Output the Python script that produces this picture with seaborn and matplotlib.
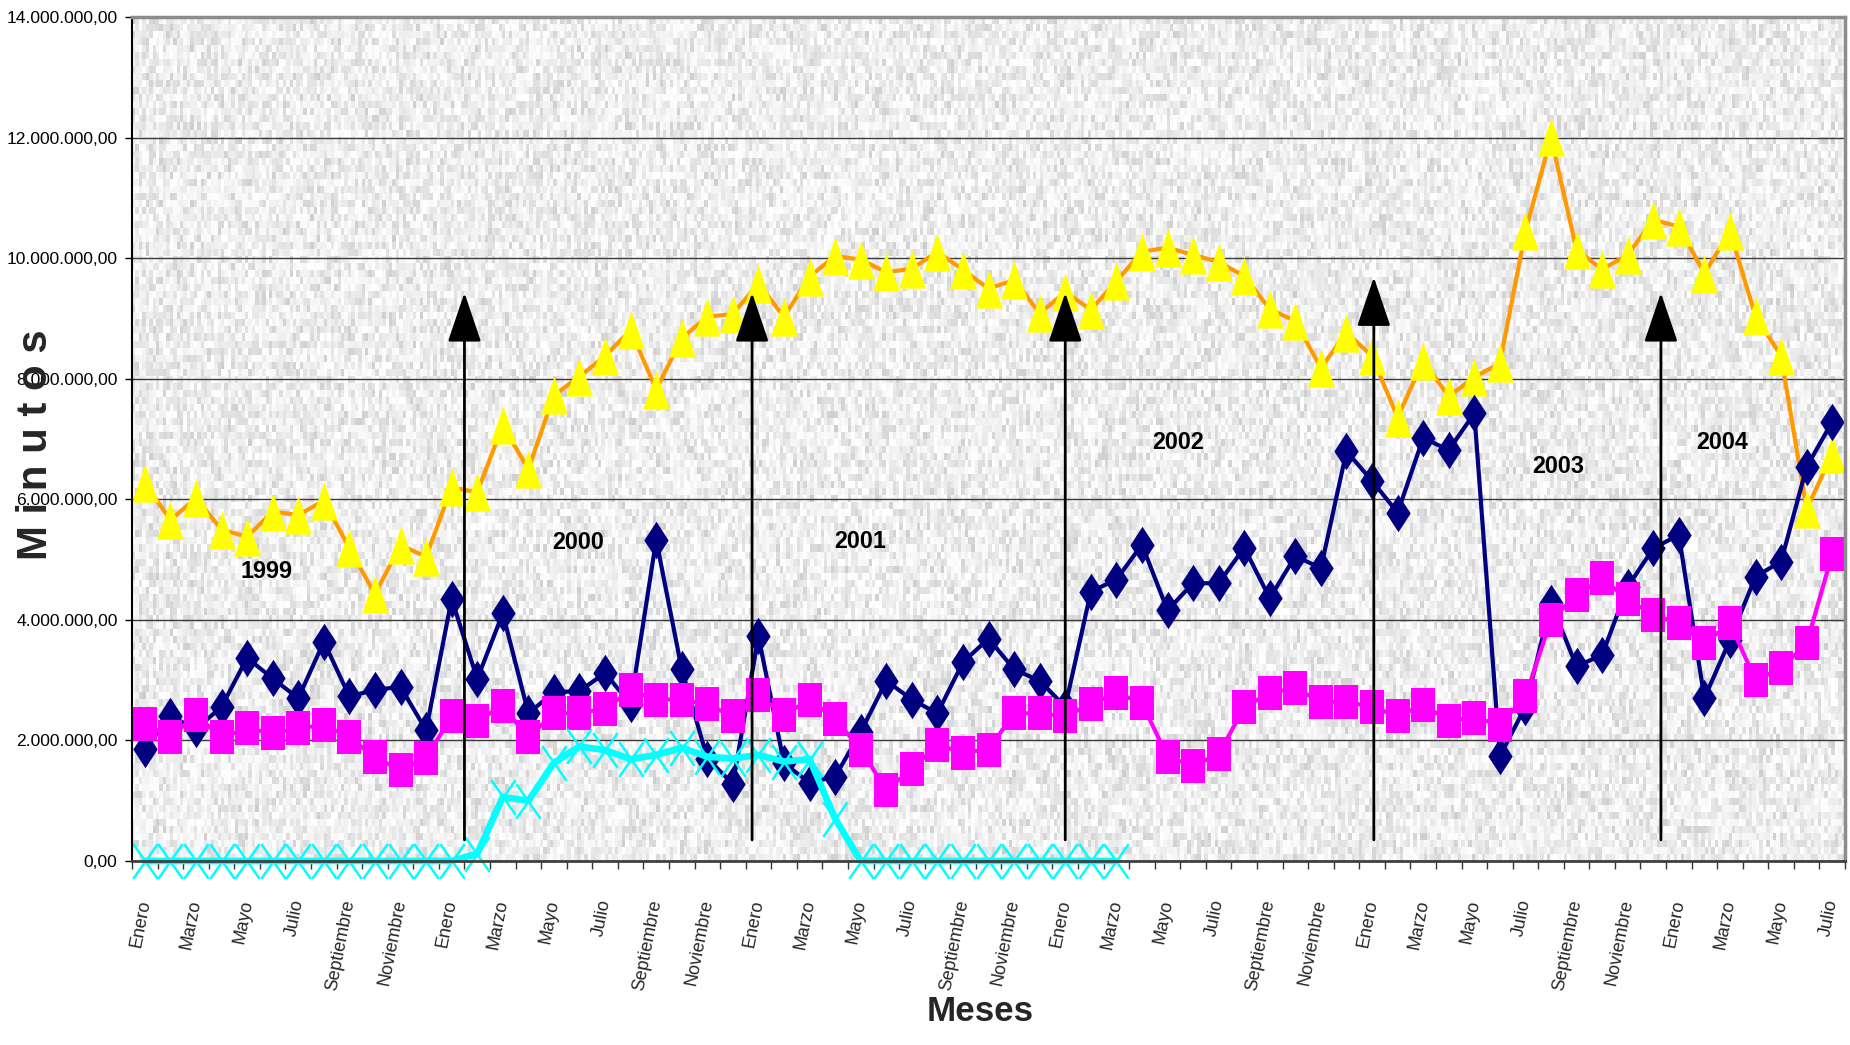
import numpy as np
import pandas as pd
import matplotlib
matplotlib.use("Agg")
import matplotlib.pyplot as plt
import seaborn as sns
from matplotlib.path import Path
from matplotlib import font_manager as fm

# ---------------- data (values in millions of minutes) ----------------
meses_nombres = ["Enero", "Febrero", "Marzo", "Abril", "Mayo", "Junio", "Julio",
                 "Agosto", "Septiembre", "Octubre", "Noviembre", "Diciembre"]
anios = [1999, 2000, 2001, 2002, 2003, 2004]
n_meses = 67  # Enero 1999 .. Julio 2004

serie_amarilla = [6.27, 5.66, 6.02, 5.50, 5.38, 5.80, 5.74, 5.98, 5.19, 4.43,
                  5.24, 5.05, 6.20, 6.12, 7.23, 6.50, 7.73, 8.04, 8.38, 8.81,
                  7.82, 8.68, 9.03, 9.08, 9.58, 9.03, 9.70, 10.04, 9.98, 9.77,
                  9.83, 10.11, 9.81, 9.50, 9.64, 9.09, 9.44, 9.15, 9.62, 10.11,
                  10.18, 10.06, 9.94, 9.71, 9.16, 8.96, 8.18, 8.77, 8.38, 7.36,
                  8.30, 7.71, 8.03, 8.26, 10.45, 12.01, 10.14, 9.82, 10.06, 10.64,
                  10.53, 9.75, 10.45, 9.04, 8.38, 5.84, 6.75]

serie_azul = [1.86, 2.40, 2.19, 2.56, 3.37, 3.03, 2.70, 3.64, 2.73, 2.84,
              2.89, 2.17, 4.35, 3.02, 4.11, 2.45, 2.80, 2.82, 3.12, 2.60,
              5.33, 3.18, 1.70, 1.28, 3.73, 1.62, 1.30, 1.40, 2.14, 2.99,
              2.68, 2.45, 3.30, 3.69, 3.18, 2.99, 2.56, 4.47, 4.67, 5.25,
              4.16, 4.61, 4.61, 5.20, 4.36, 5.06, 4.86, 6.80, 6.31, 5.78,
              7.02, 6.82, 7.43, 1.74, 2.56, 4.28, 3.23, 3.42, 4.55, 5.19,
              5.41, 2.70, 3.67, 4.72, 4.97, 6.54, 7.29]

serie_magenta = [2.28, 2.06, 2.42, 2.05, 2.20, 2.12, 2.20, 2.26, 2.05, 1.72,
                 1.51, 1.71, 2.40, 2.33, 2.57, 2.05, 2.45, 2.45, 2.53, 2.83,
                 2.68, 2.68, 2.60, 2.40, 2.75, 2.42, 2.68, 2.36, 1.85, 1.18,
                 1.52, 1.93, 1.80, 1.85, 2.45, 2.45, 2.40, 2.60, 2.79, 2.62,
                 1.73, 1.58, 1.77, 2.55, 2.79, 2.87, 2.64, 2.64, 2.56, 2.40,
                 2.59, 2.33, 2.38, 2.26, 2.73, 4.00, 4.41, 4.69, 4.34, 4.08,
                 3.95, 3.61, 3.95, 3.00, 3.20, 3.61, 5.09]

serie_cian = [0, 0, 0, 0, 0, 0, 0, 0, 0, 0, 0, 0, 0,
              0.12, 1.06, 1.00, 1.63, 1.90, 1.84, 1.69, 1.76, 1.88, 1.73,
              1.70, 1.76, 1.65, 1.69, 0.70,
              0, 0, 0, 0, 0, 0, 0, 0, 0, 0, 0]
serie_cian = serie_cian + [np.nan] * (n_meses - len(serie_cian))

# annotations
flecha_x = [12.5, 23.75, 36.0, 48.07, 59.3]
flecha_tope = [9.43, 9.43, 9.43, 9.69, 9.43]
flecha_base = [0.35, 0.35, 0.35, 0.35, 0.35]
anio_x = [4.74, 16.94, 27.97, 40.4, 55.27, 61.68]
anio_y = [4.81, 5.28, 5.30, 6.94, 6.54, 6.94]

y_ticks = [0, 2e6, 4e6, 6e6, 8e6, 10e6, 12e6, 14e6]
y_tick_labels = ["0,00", "2.000.000,00", "4.000.000,00", "6.000.000,00",
                 "8.000.000,00", "10.000.000,00", "12.000.000,00", "14.000.000,00"]

# ---------------- build frame ----------------
idx = np.arange(n_meses)
etiquetas = [meses_nombres[i % 12] for i in idx]
df = pd.DataFrame({
    "idx": idx,
    "amarilla": np.array(serie_amarilla) * 1e6,
    "azul": np.array(serie_azul) * 1e6,
    "magenta": np.array(serie_magenta) * 1e6,
    "cian": np.array(serie_cian, dtype=float) * 1e6,
})

# ---------------- fonts ----------------
sns.set_theme(style="white")
names = {f.name for f in fm.fontManager.ttflist}
narrow = "Liberation Sans Narrow" if "Liberation Sans Narrow" in names else "Liberation Sans"
fs = 1.0 if narrow == "Liberation Sans Narrow" else 0.84
plt.rcParams["font.family"] = [narrow, "DejaVu Sans"]

# ---------------- figure ----------------
fig = plt.figure(figsize=(18.5, 10.45), dpi=100)
ax = fig.add_axes([0.0714, 0.1761, 0.9259, 0.8072])

# textured plot background (decorative)
rows, cols = 120, 500
ii, jj = np.mgrid[0:rows, 0:cols]
v = np.modf(np.abs(np.sin(ii * 12.9898 + jj * 78.233) * 43758.5453))[0]
tex = 0.80 + 0.20 * v ** 0.55
ax.imshow(tex, cmap="gray", vmin=0, vmax=1, extent=[0, 1, 0, 1],
          transform=ax.transAxes, aspect="auto", interpolation="nearest", zorder=0.1)

# marker shapes
MO, LI, CL = Path.MOVETO, Path.LINETO, Path.CLOSEPOLY
tri = Path([(0, 1), (-0.7, -1), (0.7, -1), (0, 1)], [MO, LI, LI, CL])
dia = Path([(0, 1), (0.65, 0), (0, -1), (-0.65, 0), (0, 1)], [MO, LI, LI, LI, CL])
rect = Path([(-0.7, -1), (0.7, -1), (0.7, 1), (-0.7, 1), (-0.7, -1)], [MO, LI, LI, LI, CL])
xm = Path([(-0.7, -1), (0.7, 1), (-0.7, 1), (0.7, -1)], [MO, LI, MO, LI])

common = dict(ax=ax, x="idx", estimator=None, errorbar=None, clip_on=False, legend=False)
sns.lineplot(data=df, y="amarilla", color="#FF9900", linewidth=3.0, marker=tri,
             markersize=27.5, markerfacecolor="#FFFF00", markeredgecolor="#FFFF00",
             markeredgewidth=0, **common)
sns.lineplot(data=df, y="azul", color="#000080", linewidth=3.0, marker=dia,
             markersize=27, markerfacecolor="#000080", markeredgecolor="#000080",
             markeredgewidth=0, **common)
sns.lineplot(data=df, y="magenta", color="#FF00FF", linewidth=3.0, marker=rect,
             markersize=25, markerfacecolor="#FF00FF", markeredgecolor="#FF00FF",
             markeredgewidth=0, **common)
sns.lineplot(data=df, y="cian", color="#00FFFF", linewidth=4.8, marker=xm,
             markersize=25, markerfacecolor="none", markeredgecolor="#00FFFF",
             markeredgewidth=1.8, **common)

# arrows
for xa, yt, yb in zip(flecha_x, flecha_tope, flecha_base):
    ax.annotate("", xy=(xa, yt * 1e6), xytext=(xa, yb * 1e6),
                arrowprops=dict(arrowstyle="-|>,head_length=3.1,head_width=1.05",
                                color="black", lw=2, shrinkA=0, shrinkB=0,
                                mutation_scale=10),
                zorder=5)

# year labels
for a, xa, ya in zip(anios, anio_x, anio_y):
    ax.text(xa, ya * 1e6, str(a), fontsize=20 * fs, fontweight="bold",
            ha="center", va="center", zorder=6, color="black")

# axes limits / ticks
ax.set_xlim(-0.5, n_meses - 0.5)
ax.set_ylim(0, 14e6)
ax.set_yticks(y_ticks)
ax.set_yticklabels(y_tick_labels, fontsize=15 * fs)
ax.tick_params(axis="y", direction="out", length=5, width=1, pad=5.5,
               colors="black", left=True)

ax.set_xticks(idx[::2])
ax.set_xticklabels([etiquetas[i] for i in idx[::2]], rotation=79,
                   rotation_mode="anchor", ha="right", va="center",
                   fontsize=13, family=["Liberation Sans", "DejaVu Sans"])
ax.set_xticks(np.arange(-0.5, n_meses, 1), minor=True)
ax.tick_params(axis="x", which="major", length=0, pad=28, bottom=True)
ax.tick_params(axis="x", which="minor", length=6, width=1, color="#333333",
               direction="out", bottom=True)

ax.yaxis.grid(True, color="#3a3a3a", linewidth=1.0)
ax.xaxis.grid(False)
ax.set_axisbelow(True)

for s in ["top", "right"]:
    ax.spines[s].set_color("#8c8c8c")
    ax.spines[s].set_linewidth(2.5)
ax.spines["left"].set_color("black")
ax.spines["left"].set_linewidth(1.5)
ax.spines["bottom"].set_color("#404040")
ax.spines["bottom"].set_linewidth(2)

ax.set_ylabel("M i n u t o s", fontsize=36 * fs, fontweight="bold", va="center")
ax.yaxis.set_label_coords(-0.056, 0.493)
ax.set_xlabel("Meses", fontsize=30 * fs, fontweight="bold")
ax.xaxis.set_label_coords(0.495, -0.159)

fig.savefig("out.png", dpi=100)
